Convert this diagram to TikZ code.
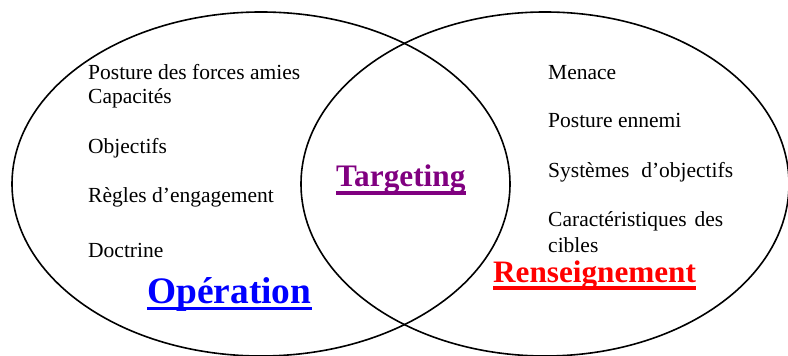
\documentclass[tikz,border=0pt]{standalone}
\usepackage{fontspec}
\setmainfont{Liberation Serif}
\definecolor{opblue}{HTML}{0000FF}
\definecolor{rsred}{HTML}{FF0000}
\definecolor{tgpurple}{HTML}{800080}
\begin{document}
\begin{tikzpicture}[x=1pt,y=1pt,
  circle line/.style={line width=1.6pt},
  item/.style={anchor=base west,inner sep=0pt,font=\fontsize{21.5}{24}\selectfont},
  title/.style={anchor=base west,inner sep=0pt,font=\bfseries},
  uline/.style={line width=#1}]
\useasboundingbox (0,0) rectangle (788,356);
\clip (0,0) rectangle (788,356);

% the two overlapping domains
\draw[circle line] (261,172) ellipse [x radius=249, y radius=172];
\draw[circle line] (545,172) ellipse [x radius=244, y radius=172];

% left domain items
\node[item] (p1) at (88,276) {Posture des forces amies};
\node[item] (p2) at (88,252) {Capacités};
\node[item] (p3) at (88,202) {Objectifs};
\node[item] (p4) at (88,153) {Règles d’engagement};
\node[item] (p5) at (88,98) {Doctrine};

% right domain items
\node[item] (r1) at (548,276) {Menace};
\node[item] (r2) at (548,228) {Posture ennemi};
\node[item] (r3) at (548,178) {\makebox[185pt][s]{Systèmes d’objectifs}};
\node[item] (r4) at (548,129) {\makebox[175pt][s]{Caractéristiques des}};
\node[item] (r5) at (548,103) {cibles};

% domain titles
\node[title,text=opblue,font=\bfseries\fontsize{37.4}{40}\selectfont] (op) at (147,52) {Opération};
\draw[uline=3pt,opblue] ([yshift=-4.5pt]op.base west) -- ([yshift=-4.5pt]op.base east);

\node[title,text=rsred,font=\bfseries\fontsize{31.2}{34}\selectfont] (rs) at (493,73) {Renseignement};
\draw[uline=4pt,rsred] ([yshift=-5pt]rs.base west) -- ([yshift=-5pt]rs.base east);

\node[title,text=tgpurple,font=\bfseries\fontsize{31.3}{34}\selectfont] (tg) at (336,169) {Targeting};
\draw[uline=4pt,tgpurple] ([yshift=-6pt]tg.base west) -- ([yshift=-6pt]tg.base east);
\end{tikzpicture}
\end{document}
